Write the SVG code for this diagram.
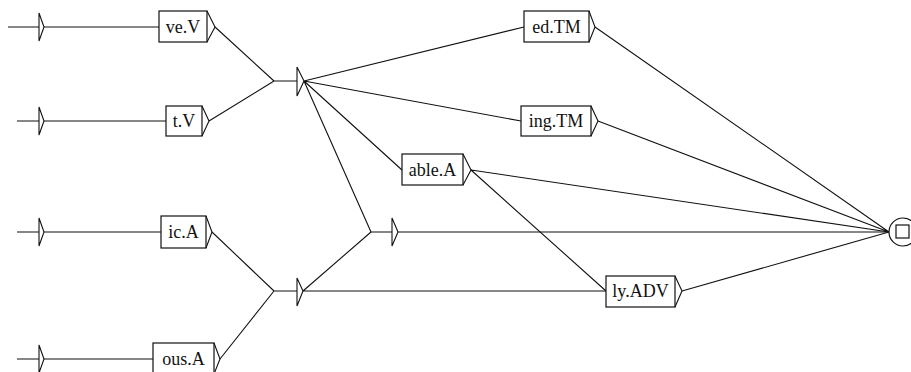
<svg xmlns="http://www.w3.org/2000/svg" width="911" height="372" viewBox="0 0 911 372">
<style>
.l{fill:none;stroke:#111;stroke-width:1.1}
.b{fill:#fff;stroke:#111;stroke-width:1.2}
.t{font-family:"Liberation Serif","Times New Roman",serif;font-size:18px;fill:#111;text-anchor:middle}
</style>
<rect width="911" height="372" fill="#fff"/>
<g id="connectors" class="l">
<path d="M8 27H39M44 27H159"/>
<path d="M17 121H39M44 121H166"/>
<path d="M17 232H39M44 232H161"/>
<path d="M17 359H39M44 359H153"/>
<path d="M215 27L274 81M209 121L274 81M274 81H297"/>
<path d="M212 232L274 291M220 359L274 291M274 291H297"/>
<path d="M304 81L524 27M304 81L521 121M304 81L402 170M304 81L371 232"/>
<path d="M303 291L371 232M303 291H606"/>
<path d="M371 232H392M398 232H889"/>
<path d="M595 27L889 232M598 121L889 232M471 170L889 232M471 170L606 291M682 291L889 232"/>
</g>
<g id="init1" class="l"><path d="M39 13V41L44 27Z"/></g>
<g id="init2" class="l"><path d="M39 107V135L44 121Z"/></g>
<g id="init3" class="l"><path d="M39 218V246L44 232Z"/></g>
<g id="init4" class="l"><path d="M39 345V373L44 359Z"/></g>
<g id="veV"><rect class="b" x="159" y="11" width="48" height="31"/><path class="l" d="M207 11L215 27L207 42"/><text class="t" x="183" y="33">ve.V</text></g>
<g id="tV"><rect class="b" x="166" y="106" width="36" height="30"/><path class="l" d="M202 106L209 121L202 136"/><text class="t" x="184" y="127">t.V</text></g>
<g id="icA"><rect class="b" x="161" y="216" width="45" height="32"/><path class="l" d="M206 216L212 232L206 248"/><text class="t" x="183.5" y="238">ic.A</text></g>
<g id="ousA"><rect class="b" x="153" y="343" width="61" height="31"/><path class="l" d="M214 343L220 359L214 374"/><text class="t" x="183.5" y="365">ous.A</text></g>
<g id="node1" class="l"><path d="M297 67V96L304 81Z"/></g>
<g id="node2" class="l"><path d="M297 278V306L303 291Z"/></g>
<g id="node3" class="l"><path d="M392 218V246L398 232Z"/></g>
<g id="edTM"><rect class="b" x="524" y="11" width="65" height="31"/><path class="l" d="M589 11L595 27L589 42"/><text class="t" x="556.5" y="33">ed.TM</text></g>
<g id="ingTM"><rect class="b" x="521" y="106" width="70" height="30"/><path class="l" d="M591 106L598 121L591 136"/><text class="t" x="556" y="127">ing.TM</text></g>
<g id="ableA"><rect class="b" x="402" y="154" width="61" height="31"/><path class="l" d="M463 154L471 170L463 185"/><text class="t" x="432.5" y="176">able.A</text></g>
<g id="lyADV"><rect class="b" x="606" y="276" width="69" height="31"/><path class="l" d="M675 276L682 291L675 307"/><text class="t" x="640.5" y="297">ly.ADV</text></g>
<g id="final"><circle class="b" cx="903" cy="232" r="14"/><rect class="b" x="896" y="225" width="13" height="13"/></g>
</svg>
